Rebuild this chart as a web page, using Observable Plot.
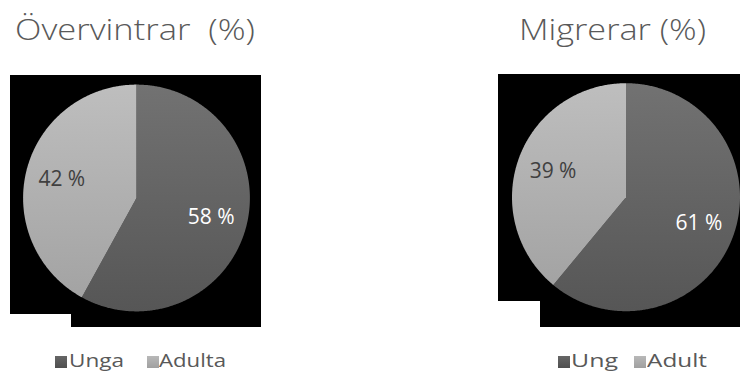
<!DOCTYPE html>
<html><head><meta charset="utf-8">
<script src="https://cdn.jsdelivr.net/npm/d3@7"></script>
<script src="https://cdn.jsdelivr.net/npm/@observablehq/plot@0.6"></script>
<style>
html,body{margin:0;padding:0;background:#fff;}
#root{position:relative;width:740px;height:374px;overflow:hidden;font-family:"Open Sans",sans-serif;color:#595959;}
.title{position:absolute;font-size:30px;font-weight:300;white-space:pre;line-height:1;transform-origin:0 0;}
.lt{position:absolute;font-size:19px;white-space:pre;line-height:1;transform-origin:0 0;}
.sw{position:absolute;width:12px;height:12px;}
.panel{position:absolute;}
.panel svg{display:block;}
.notch{position:absolute;background:#fff;}
</style></head>
<body>
<svg width="0" height="0" style="position:absolute">
  <defs>
    <linearGradient id="gDark" x1="0" y1="0" x2="0" y2="1">
      <stop offset="0" stop-color="#727272"/><stop offset="1" stop-color="#565656"/>
    </linearGradient>
    <linearGradient id="gLight" x1="0" y1="0" x2="0" y2="1">
      <stop offset="0" stop-color="#bebebe"/><stop offset="1" stop-color="#a3a3a3"/>
    </linearGradient>
  </defs>
</svg>
<div id="root"></div>
<script>
// ---- data ----
const titles = ["Övervintrar  (%)", "Migrerar (%)"];
const categoriesLeft = ["Unga", "Adulta"];
const categoriesRight = ["Ung", "Adult"];
const valuesLeft = [58, 42];
const valuesRight = [61, 39];

// ---- styling ----
const sliceFills = ["url(#gDark)", "url(#gLight)"];
const labelFills = ["#ffffff", "#404040"];
const root = document.getElementById("root");

function piePlot(values, cats, W, H, cx, cy, r) {
  const arcs = d3.pie().sort(null)(values);
  const marks = [];
  arcs.forEach((a, i) => {
    const n = Math.max(2, Math.ceil((a.endAngle - a.startAngle) / (Math.PI / 360)));
    const pts = [{x: 0, y: 0}];
    for (let k = 0; k <= n; k++) {
      const t = a.startAngle + (a.endAngle - a.startAngle) * k / n;
      pts.push({x: Math.sin(t), y: Math.cos(t)});
    }
    pts.push({x: 0, y: 0});
    marks.push(Plot.line(pts, {x: "x", y: "y", fill: sliceFills[i], stroke: "none", curve: "linear"}));
  });
  arcs.forEach((a, i) => {
    const m = (a.startAngle + a.endAngle) / 2;
    marks.push(Plot.text([a], {
      x: () => 0.68 * Math.sin(m), y: () => 0.68 * Math.cos(m),
      text: d => `${d.data} %`, fill: labelFills[i], fontSize: 21, fontFamily: "Open Sans"
    }));
  });
  return Plot.plot({
    width: W, height: H, margin: 0,
    x: {domain: [-cx / r, (W - cx) / r], axis: null},
    y: {domain: [-(H - cy) / r, cy / r], axis: null},
    style: {background: "black", overflow: "visible"},
    marks
  });
}

function addPanel(cfg) {
  const p = document.createElement("div");
  p.className = "panel";
  p.style.left = cfg.left + "px"; p.style.top = cfg.top + "px";
  p.appendChild(piePlot(cfg.values, cfg.cats, cfg.W, cfg.H, cfg.cx, cfg.cy, cfg.r));
  root.appendChild(p);
  const n = document.createElement("div");
  n.className = "notch";
  Object.assign(n.style, {left: cfg.notch[0] + "px", top: cfg.notch[1] + "px", width: cfg.notch[2] + "px", height: cfg.notch[3] + "px"});
  root.appendChild(n);

  const t = document.createElement("div");
  t.className = "title"; t.textContent = cfg.title;
  t.style.left = cfg.titleLeft + "px"; t.style.top = cfg.titleTop + "px";
  root.appendChild(t);
  const w = t.getBoundingClientRect().width;
  t.style.transform = `scaleX(${cfg.titleWidth / w})`;

  cfg.cats.forEach((c, i) => {
    const sw = document.createElement("div");
    sw.className = "sw"; sw.style.background = i === 0 ? "linear-gradient(#666,#4f4f4f)" : "linear-gradient(#b8b8b8,#a0a0a0)";
    sw.style.left = cfg.legend[i][0] + "px"; sw.style.top = "356px";
    root.appendChild(sw);
    const lt = document.createElement("div");
    lt.className = "lt"; lt.textContent = c;
    lt.style.left = cfg.legend[i][1] + "px"; lt.style.top = "350.5px";
    root.appendChild(lt);
    const lw = lt.getBoundingClientRect().width;
    lt.style.transform = `scaleX(${cfg.legend[i][2] / lw})`;
  });
}

addPanel({
  title: titles[0], titleLeft: 15, titleTop: 14, titleWidth: 240,
  values: valuesLeft, cats: categoriesLeft,
  left: 10, top: 75, W: 251, H: 252, cx: 126, cy: 122.5, r: 113.4,
  notch: [10, 314, 61, 14],
  legend: [[55, 69, 55], [147, 159, 67]]
});
addPanel({
  title: titles[1], titleLeft: 519, titleTop: 14, titleWidth: 187,
  values: valuesRight, cats: categoriesRight,
  left: 498, top: 74, W: 242, H: 253, cx: 127.5, cy: 122.7, r: 114,
  notch: [498, 301, 42, 27],
  legend: [[558, 571, 47], [634, 647, 60]]
});
</script>
</body></html>
